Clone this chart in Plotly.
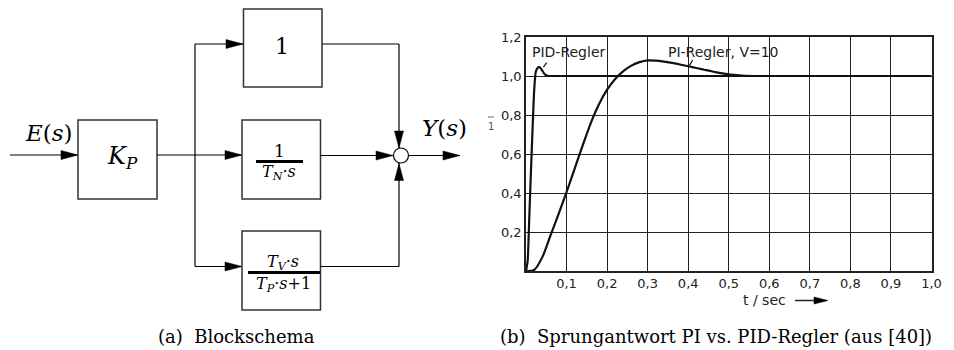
import plotly.graph_objects as go

# ---------------- data (right chart) ----------------
pid_t = [0, 0.004, 0.008, 0.012, 0.016, 0.020, 0.024, 0.028, 0.032, 0.036, 0.040, 0.044, 0.048, 0.052, 0.056, 0.06, 0.08, 1.0]
pid_y = [0, 0.05, 0.27, 0.5, 0.72, 0.92, 1.02, 1.04, 1.045, 1.04, 1.028, 1.015, 1.006, 1.002, 1.0, 1.0, 1.0, 1.0]

pi_t = [0, 0.02, 0.04, 0.06, 0.08, 0.10, 0.12, 0.14, 0.16, 0.18, 0.20, 0.22, 0.24, 0.26, 0.28, 0.30,
        0.32, 0.34, 0.36, 0.38, 0.40, 0.42, 0.44, 0.46, 0.48, 0.50, 0.52, 0.54, 0.56, 0.60, 1.0]
pi_y = [0, 0.005, 0.07, 0.18, 0.29, 0.405, 0.525, 0.645, 0.76, 0.855, 0.93, 0.985, 1.025, 1.053, 1.071, 1.08,
        1.079, 1.074, 1.067, 1.059, 1.05, 1.041, 1.032, 1.023, 1.015, 1.008, 1.004, 1.001, 1.0, 1.0, 1.0]

x_ticks = [0.1, 0.2, 0.3, 0.4, 0.5, 0.6, 0.7, 0.8, 0.9, 1.0]
x_ticktext = ["0,1", "0,2", "0,3", "0,4", "0,5", "0,6", "0,7", "0,8", "0,9", "1,0"]
y_ticks = [0.2, 0.4, 0.6, 0.8, 1.0, 1.2]
y_ticktext = ["0,2", "0,4", "0,6", "0,8", "1,0", "1,2"]

label_pid = "PID-Regler"
label_pi = "PI-Regler, V=10"
x_title = "t / sec"
caption_a = "(a)  Blockschema"
caption_b = "(b)  Sprungantwort PI vs. PID-Regler (aus [40])"

W, H = 954, 350


def X(px):
    return px / W


def Y(py):
    return 1 - py / H


SERIF = "DejaVu Serif"
SANS = "DejaVu Sans"
INK = "#111111"

fig = go.Figure()
fig.add_trace(go.Scatter(x=pid_t, y=pid_y, mode="lines", line=dict(color=INK, width=2.2, shape="spline", smoothing=0.6),
                         showlegend=False, hoverinfo="skip"))
fig.add_trace(go.Scatter(x=pi_t, y=pi_y, mode="lines", line=dict(color=INK, width=2.2, shape="spline", smoothing=0.8),
                         showlegend=False, hoverinfo="skip"))

shapes = []
annotations = []


def line(x0, y0, x1, y1, w=1.2, color="#000"):
    shapes.append(dict(type="line", xref="paper", yref="paper", x0=X(x0), y0=Y(y0), x1=X(x1), y1=Y(y1),
                       line=dict(color=color, width=w)))


def rect(x0, y0, x1, y1):
    shapes.append(dict(type="rect", xref="paper", yref="paper", x0=X(x0), y0=Y(y0), x1=X(x1), y1=Y(y1),
                       line=dict(color="#333", width=1.5), fillcolor="rgba(0,0,0,0)"))


def arrow(tx, ty, d, L=17, hw=4.5):
    if d == "r":
        pts = [(tx, ty), (tx - L, ty - hw), (tx - L, ty + hw)]
    elif d == "d":
        pts = [(tx, ty), (tx - hw, ty - L), (tx + hw, ty - L)]
    else:  # up
        pts = [(tx, ty), (tx - hw, ty + L), (tx + hw, ty + L)]
    p = "M {} {} L {} {} L {} {} Z".format(*[v for pt in pts for v in (X(pt[0]), Y(pt[1]))])
    shapes.append(dict(type="path", xref="paper", yref="paper", path=p, fillcolor="#000",
                       line=dict(color="#000", width=0.5)))


def text(x, y, s, size, family=SERIF, color="#000", xanchor="center"):
    annotations.append(dict(xref="paper", yref="paper", x=X(x), y=Y(y), text=s, showarrow=False,
                            xanchor=xanchor, yanchor="middle", font=dict(family=family, size=size, color=color)))


# ---------------- left: block diagram ----------------
line(10, 155, 78, 155)
arrow(78, 155, "r")
rect(78, 120, 157, 199)
text(49, 133, "<i>E</i>(<i>s</i>)", 23)
text(122, 157, "<i>K</i><sub><i>P</i></sub>", 24)
line(157, 155, 195, 155)
line(195, 44, 195, 266.5)
line(195, 44, 243, 44)
arrow(243, 44, "r")
line(195, 155, 242, 155)
arrow(242, 155, "r")
line(195, 266.5, 242, 266.5)
arrow(242, 266.5, "r")
rect(243.5, 9, 322, 87)
rect(242, 120, 320.5, 199)
rect(242, 231, 320.5, 310)
text(282, 46, "1", 22)
text(279, 151, "1", 17)
shapes.append(dict(type="line", xref="paper", yref="paper", x0=X(256), y0=Y(161.5), x1=X(303), y1=Y(161.5),
                   line=dict(color="#000", width=3)))
text(279, 173, "<i>T</i><sub><i>N</i></sub>·<i>s</i>", 16)
text(283, 262, "<i>T</i><sub><i>V</i></sub>·<i>s</i>", 16)
shapes.append(dict(type="line", xref="paper", yref="paper", x0=X(248), y0=Y(272.5), x1=X(320), y1=Y(272.5),
                   line=dict(color="#000", width=3)))
text(283, 284, "<i>T</i><sub><i>P</i></sub>·<i>s</i>+1", 16)
line(322, 44, 399, 44)
line(399, 44, 399, 148)
arrow(399, 148, "d")
line(320.5, 155.5, 393, 155.5)
arrow(393, 155.5, "r")
line(320.5, 266.5, 399, 266.5)
line(399, 266.5, 399, 163)
arrow(399, 163.5, "u")
shapes.append(dict(type="circle", xref="paper", yref="paper", x0=X(393.5), y0=Y(148), x1=X(408.5), y1=Y(163),
                   line=dict(color="#000", width=1.2), fillcolor="#fff"))
line(408.5, 155.5, 460, 155.5)
arrow(460, 155.5, "r")
text(444, 128, "<i>Y</i>(<i>s</i>)", 23)
text(236, 336, caption_a, 18)

# ---------------- right: chart decorations ----------------
text(569, 52, label_pid, 14, family=SANS, color="#222")
text(723, 52, label_pi, 14, family=SANS, color="#222")
shapes.append(dict(type="line", xref="x", yref="y", x0=0.051, y0=1.068, x1=0.043, y1=1.045,
                   line=dict(color="#222", width=1.3)))
shapes.append(dict(type="line", xref="x", yref="y", x0=0.411, y0=1.082, x1=0.403, y1=1.053,
                   line=dict(color="#222", width=1.3)))
text(788, 300, x_title, 14, family=SANS, color="#222", xanchor="right")
line(795, 300.5, 815, 300.5, w=1.5, color="#222")
arrow(828, 300.5, "r", L=14, hw=3.5)
line(488, 117, 494, 117, w=1, color="#666")
text(491, 126, "1", 10, family=SANS, color="#555")
text(716, 336, caption_b, 18)

fig.update_layout(
    width=W, height=H, margin=dict(l=0, r=0, t=0, b=0, autoexpand=False),
    paper_bgcolor="#ffffff", plot_bgcolor="#ffffff",
    shapes=shapes, annotations=annotations,
    xaxis=dict(domain=[X(526), X(931.5)], range=[0, 1], tickvals=x_ticks, ticktext=x_ticktext,
               showgrid=True, gridcolor="#222", gridwidth=1.2, zeroline=False, automargin=False,
               showline=True, linecolor="#222", linewidth=1.6, mirror=True, ticks="",
               tickfont=dict(family=SANS, size=13, color="#222")),
    yaxis=dict(domain=[Y(271), Y(37)], range=[0, 1.2], tickvals=y_ticks, ticktext=y_ticktext,
               showgrid=True, gridcolor="#222", gridwidth=1.2, zeroline=False, automargin=False,
               showline=True, linecolor="#222", linewidth=1.6, mirror=True, ticks="",
               tickfont=dict(family=SANS, size=13, color="#222")),
)

fig.write_html("out.html")
